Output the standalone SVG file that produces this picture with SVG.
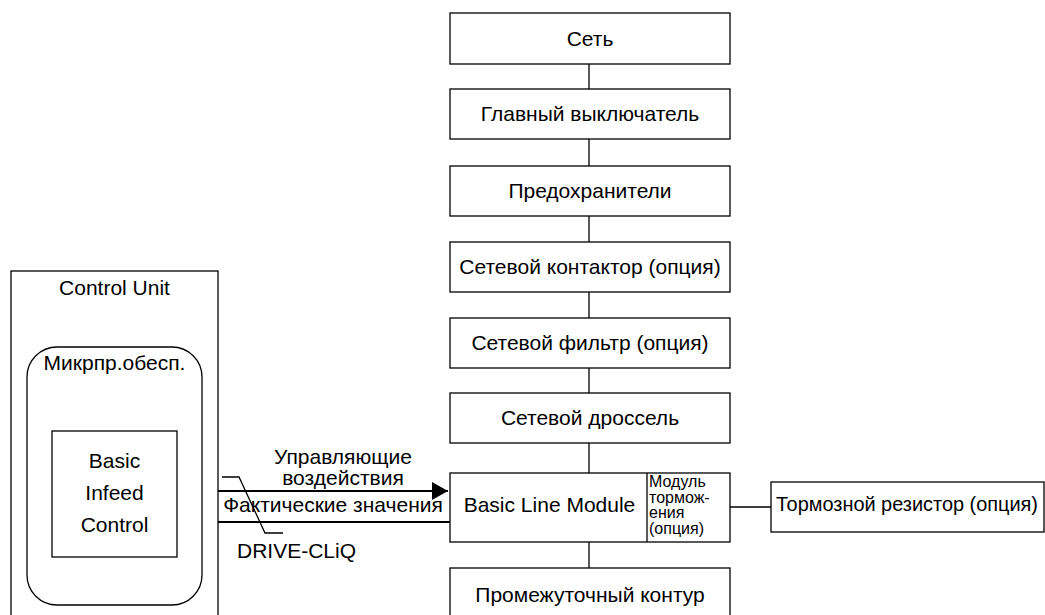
<svg xmlns="http://www.w3.org/2000/svg" width="1045" height="615" viewBox="0 0 1045 615">
<style>
.box{fill:#fff;stroke:#000;stroke-width:1.3}
.ln{stroke:#000;stroke-width:1.3;fill:none}
.ar{stroke:#000;stroke-width:2.2;fill:none}
text{font-family:"Liberation Sans",Arial,sans-serif;font-size:21px;fill:#000}
.c{text-anchor:middle}
.s{font-size:16px}
</style>
<defs>
<marker id="ah" markerWidth="16" markerHeight="18" refX="16" refY="9" orient="auto" markerUnits="userSpaceOnUse">
<path d="M0,0 L16,9 L0,18 Z" fill="#000"/>
</marker>
</defs>
<rect width="1045" height="615" fill="#fff"/>
<g id="connectors">
<path class="ln" d="M589,64V89 M589,139V166 M589,216V242 M589,292V318 M589,368V393 M589,443V473 M589,542V568 M730,507H771"/>
<path class="ar" d="M177,491H448" marker-end="url(#ah)"/>
<path class="ar" d="M450,522H179" marker-end="url(#ah)"/>
<path class="ln" d="M222,477H239L265,533H283"/>
<text class="c" x="343" y="464">Управляющие</text>
<text class="c" x="343" y="485">воздействия</text>
<text class="c" x="333" y="512">Фактические значения</text>
<text x="237" y="558">DRIVE-CLiQ</text>
</g>
<g id="control-unit">
<rect class="box" x="11" y="271" width="207" height="360"/>
<text class="c" x="114.5" y="295">Control Unit</text>
</g>
<g id="mikroprog">
<rect class="box" x="27" y="347" width="175" height="258" rx="30" ry="30"/>
<text class="c" x="114.5" y="370">Микрпр.обесп.</text>
</g>
<g id="bic">
<rect class="box" x="52" y="431" width="125" height="126"/>
<text class="c" x="114.5" y="468">Basic</text>
<text class="c" x="114.5" y="500">Infeed</text>
<text class="c" x="114.5" y="532">Control</text>
</g>
<g id="set">
<rect class="box" x="450" y="13" width="280" height="51"/>
<text class="c" x="590" y="46">Сеть</text>
</g>
<g id="glav">
<rect class="box" x="450" y="89" width="280" height="50"/>
<text class="c" x="590" y="121">Главный выключатель</text>
</g>
<g id="pred">
<rect class="box" x="450" y="166" width="280" height="50"/>
<text class="c" x="590" y="198">Предохранители</text>
</g>
<g id="kont">
<rect class="box" x="450" y="242" width="280" height="50"/>
<text class="c" x="590" y="274">Сетевой контактор (опция)</text>
</g>
<g id="filtr">
<rect class="box" x="450" y="318" width="280" height="50"/>
<text class="c" x="590" y="350">Сетевой фильтр (опция)</text>
</g>
<g id="dross">
<rect class="box" x="450" y="393" width="280" height="50"/>
<text class="c" x="590" y="425">Сетевой дроссель</text>
</g>
<g id="blm">
<rect class="box" x="450" y="473" width="280" height="69"/>
<line class="ln" x1="647" y1="473" x2="647" y2="542"/>
<text class="c" x="549.5" y="512">Basic Line Module</text>
<text class="s" x="649" y="487">Модуль</text>
<text class="s" x="649" y="503">тормож-</text>
<text class="s" x="649" y="518">ения</text>
<text class="s" x="649" y="534">(опция)</text>
</g>
<g id="promezh">
<rect class="box" x="450" y="568" width="280" height="60"/>
<text class="c" x="590" y="602">Промежуточный контур</text>
</g>
<g id="rezistor">
<rect class="box" x="771" y="482" width="273" height="50"/>
<text x="776" y="511" textLength="262" lengthAdjust="spacingAndGlyphs">Тормозной резистор (опция)</text>
</g>
</svg>
